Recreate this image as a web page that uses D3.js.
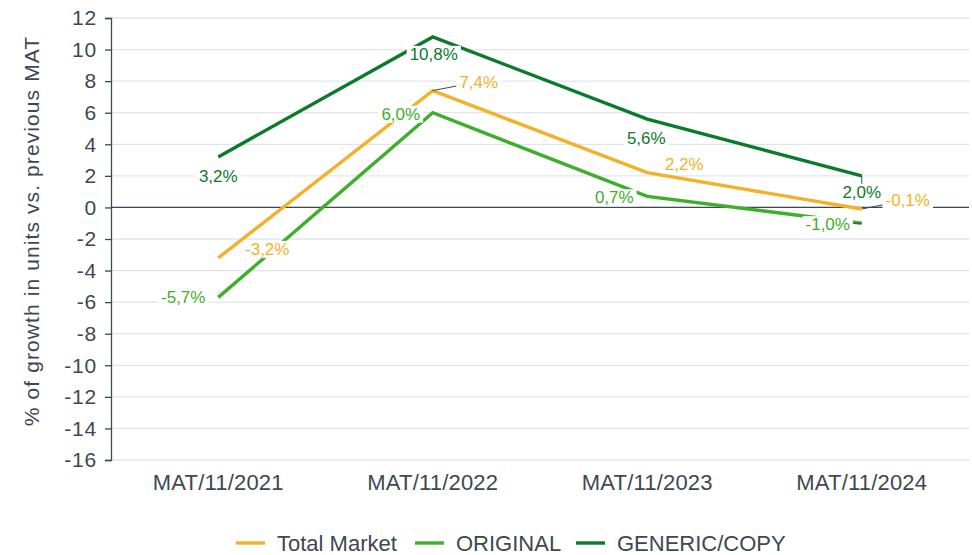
<!DOCTYPE html>
<html>
<head>
<meta charset="utf-8">
<script src="https://cdn.jsdelivr.net/npm/d3@7"></script>
<style>
  body { margin: 0; background: #fff; }
  svg { font-family: "Liberation Sans", Arial, sans-serif; }
</style>
</head>
<body>
<div id="chart"></div>
<script>
const categories = ["MAT/11/2021", "MAT/11/2022", "MAT/11/2023", "MAT/11/2024"];
const totalMarket = [-3.2, 7.4, 2.2, -0.1];
const original = [-5.7, 6.0, 0.7, -1.0];
const generic = [3.2, 10.8, 5.6, 2.0];
const yTicks = [12, 10, 8, 6, 4, 2, 0, -2, -4, -6, -8, -10, -12, -14, -16];

// label offsets from the point (dx, dy), and whether a leader line is drawn
const series = [
  { name: "Total Market", values: totalMarket, color: "#f3b12a",
    offsets: [[49, -9], [46, -9], [37, -9], [46, -9]], leader: [false, true, false, true] },
  { name: "ORIGINAL", values: original, color: "#3fae2a",
    offsets: [[-35, 0], [-32, 1], [-33, 1], [-34, 1]], leader: [false, false, false, true] },
  { name: "GENERIC/COPY", values: generic, color: "#0b7a2b",
    offsets: [[0, 19], [1, 17], [-1, 19], [0, 16]], leader: [false, false, false, true] }
];

const width = 972, height = 555;
const margin = { left: 111, right: 3, top: 18, bottom: 95 };

const svg = d3.select("#chart").append("svg")
  .attr("width", width)
  .attr("height", height);

const x = d3.scaleBand()
  .domain(categories)
  .range([margin.left, width - margin.right]);

const y = d3.scaleLinear()
  .domain([-16, 12])
  .range([height - margin.bottom, margin.top]);

const cx = d => x(d) + x.bandwidth() / 2;

// grid
svg.append("g")
  .selectAll("line")
  .data(yTicks)
  .enter()
  .append("line")
  .attr("x1", margin.left)
  .attr("x2", width - margin.right)
  .attr("y1", d => y(d))
  .attr("y2", d => y(d))
  .style("stroke", "#dfe5ee")
  .style("stroke-width", 1.3);

// y axis (plain hyphen for negatives, like the original)
let axisLeft = d3.axisLeft(y)
  .tickValues(yTicks)
  .tickFormat(d => String(d))
  .tickSize(6)
  .tickPadding(8);
let gy = svg.append("g")
  .attr("transform", "translate(" + margin.left + ",0)")
  .call(axisLeft);
gy.select(".domain").style("stroke", "#3d4852").style("stroke-width", 1.3);
gy.selectAll(".tick line").style("stroke", "#3d4852").style("stroke-width", 1.3);
gy.selectAll(".tick text")
  .style("font-size", "21px")
  .style("letter-spacing", "0.8px")
  .style("fill", "#3d4852")
  .style("font-family", "Liberation Sans, Arial, sans-serif");

// zero line
svg.append("line")
  .attr("x1", margin.left)
  .attr("x2", width - margin.right)
  .attr("y1", y(0))
  .attr("y2", y(0))
  .style("stroke", "#3d4852")
  .style("stroke-width", 1.3);

// x labels
svg.append("g")
  .selectAll("text")
  .data(categories)
  .enter()
  .append("text")
  .text(d => d)
  .attr("x", d => cx(d))
  .attr("y", y(-16) + 30)
  .attr("text-anchor", "middle")
  .style("font-size", "22px")
  .style("letter-spacing", "0.2px")
  .style("fill", "#3d4852");

// y title
svg.append("text")
  .text("% of growth in units vs. previous MAT")
  .attr("transform", "translate(39," + ((y(12) + y(-16)) / 2 - 8) + ") rotate(-90)")
  .attr("text-anchor", "middle")
  .style("font-size", "21px")
  .style("letter-spacing", "1.1px")
  .style("fill", "#3d4852");

// lines
let line = d3.line()
  .x((d, i) => cx(categories[i]))
  .y(d => y(d));

series.forEach(s => {
  svg.append("path")
    .datum(s.values)
    .attr("d", line)
    .style("fill", "none")
    .style("stroke", s.color)
    .style("stroke-width", 3.4);
});

// data labels: leader lines first, then white boxes, then text
let leaderG = svg.append("g");
let labelsG = svg.append("g");
series.forEach(s => {
  s.values.forEach((v, i) => {
    let px = cx(categories[i]), py = y(v);
    let lx = px + s.offsets[i][0], ly = py + s.offsets[i][1];
    if (s.leader[i]) {
      leaderG.append("line")
        .attr("x1", px).attr("y1", py)
        .attr("x2", lx).attr("y2", ly)
        .style("stroke", "#3d4852")
        .style("stroke-width", 1);
    }
    let g = labelsG.append("g");
    let t = g.append("text")
      .text(v.toFixed(1).replace(".", ",") + "%")
      .attr("x", lx)
      .attr("y", ly)
      .attr("text-anchor", "middle")
      .attr("dy", "0.35em")
      .style("font-size", "17px")
      .style("fill", s.color);
    let b = t.node().getBBox();
    g.insert("rect", "text")
      .attr("x", b.x - 3)
      .attr("y", b.y + 1)
      .attr("width", b.width + 6)
      .attr("height", b.height - 2)
      .style("fill", "#fff");
  });
});

// legend
let legendPos = [236, 415, 576];
let legend = svg.append("g");
series.forEach((s, i) => {
  legend.append("line")
    .attr("x1", legendPos[i]).attr("x2", legendPos[i] + 29)
    .attr("y1", 543).attr("y2", 543)
    .style("stroke", s.color)
    .style("stroke-width", 3.4);
  legend.append("text")
    .text(s.name)
    .attr("x", legendPos[i] + 41)
    .attr("y", 551)
    .style("font-size", "22px")
    .style("fill", "#3d4852");
});
</script>
</body>
</html>
